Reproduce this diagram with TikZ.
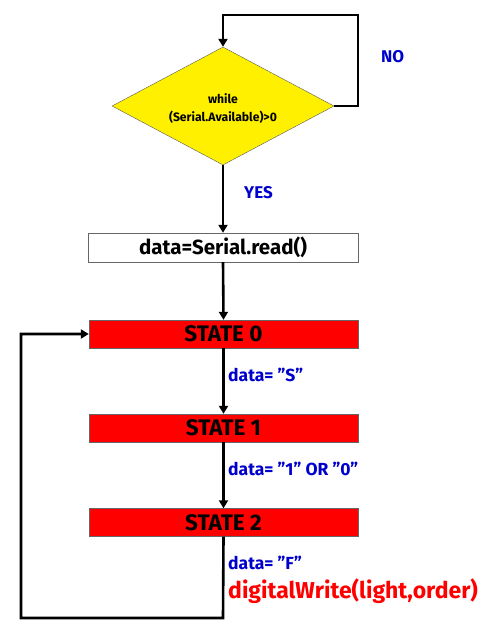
\documentclass[tikz,border=0pt]{standalone}
\usepackage{fontspec}
\setmainfont{Fira Sans}
\usetikzlibrary{shapes.geometric,arrows.meta}
\definecolor{lblue}{RGB}{0,0,205}
\definecolor{bred}{RGB}{255,0,0}
\definecolor{byel}{RGB}{255,240,0}
\begin{document}
\begin{tikzpicture}[x=1pt,y=-1pt,
  conn/.style={line width=2.6pt,-{Triangle[length=8pt,width=9pt]}},
  statebox/.style={draw=gray!80!black,fill=bred,minimum width=269pt,minimum height=28pt,inner sep=0pt,font=\bfseries\fontsize{22.5}{24}\selectfont},
  lbl/.style={text=lblue,font=\bfseries\fontsize{17.5}{20}\selectfont,anchor=west,inner sep=0pt}]
\useasboundingbox (0,0) rectangle (493,640);
\node[diamond,draw=gray!70!black,fill=byel,minimum width=222pt,minimum height=118pt,aspect=1.88,inner sep=0pt] (cond) at (223,106) {};
\node[align=center,font=\fontsize{12.2}{18}\selectfont\bfseries] (condtxt) at (223,109) {while\\(Serial.Available)>0};
\node[draw=gray!80!black,fill=white,minimum width=270pt,minimum height=29pt,inner sep=0pt,font=\bfseries\fontsize{20.5}{22}\selectfont] (read) at (223,247.5) {data=Serial.read()};
\node[statebox] (s0) at (223.5,334) {STATE 0};
\node[statebox] (s1) at (223.5,428) {STATE 1};
\node[statebox] (s2) at (223.5,522.5) {STATE 2};
\coordinate (n1) at (358,106);
\coordinate (n2) at (358,15);
\coordinate (n3) at (223,15);
\coordinate (l1) at (223,618);
\coordinate (l2) at (21,618);
\coordinate (l3) at (21,334);
\draw[conn] (cond.east) -- (n1) -- (n2) -- (n3) -- (cond.north);
\draw[conn] (cond.south) -- (read.north);
\draw[conn] (read.south) -- (s0.north);
\draw[conn] (s0.south) -- (s1.north);
\draw[conn] (s1.south) -- (s2.north);
\draw[conn] (s2.south) -- (l1) -- (l2) -- (l3) -- (s0.west);
\node[lbl,font=\bfseries\fontsize{17}{19}\selectfont] (no) at (381,57) {NO};
\node[lbl,font=\bfseries\fontsize{17}{19}\selectfont] (yes) at (244,193) {YES};
\node[lbl] (ls) at (228,375) {data= "S"};
\node[lbl] (l10) at (228,469) {data= "1" OR "0"};
\node[lbl] (lf) at (228,563) {data= "F"};
\node[lbl,text=bred,font=\bfseries\fontsize{23}{26}\selectfont] (dw) at (228,591) {digitalWrite(light,order)};
\end{tikzpicture}
\end{document}
